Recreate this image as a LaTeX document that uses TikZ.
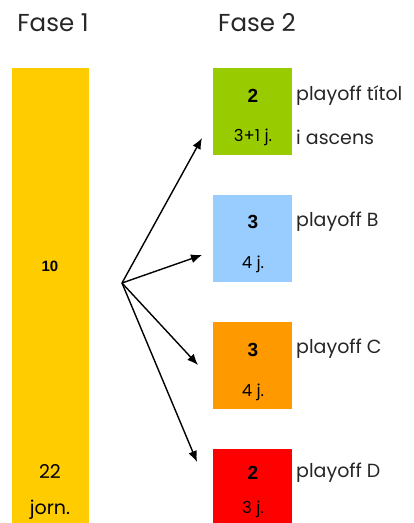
\documentclass[tikz,border=0pt]{standalone}
\usepackage{fontspec}
\setmainfont{Poppins}
\newfontfamily\numfont{Liberation Sans}
\usetikzlibrary{arrows.meta}
\definecolor{grocFase}{HTML}{FFCC00}
\definecolor{verdTitol}{HTML}{99CC00}
\definecolor{blauB}{HTML}{99CCFF}
\definecolor{taronjaC}{HTML}{FF9900}
\definecolor{vermellD}{HTML}{FF0000}
\definecolor{textGris}{HTML}{262626}
\tikzset{
  caixa/.style={shape=rectangle,inner sep=0pt,minimum width=79pt,minimum height=87pt},
  titol/.style={font=\fontsize{24.5}{24.5}\selectfont,text=textGris},
  xifra/.style={font=\numfont\bfseries\fontsize{19}{19}\selectfont},
  jorn/.style={font=\fontsize{16.5}{16.5}\selectfont,text=black},
  etiqueta/.style={anchor=west,inner sep=0pt,font=\fontsize{19}{19}\selectfont,text=textGris}
}
\begin{document}
\begin{tikzpicture}[x=1pt,y=-1pt]
  \useasboundingbox (0,0) rectangle (414,523);
  \node[titol] (fase1) at (53,23) {Fase 1};
  \node[titol] (fase2) at (257,23) {Fase 2};

  \node[caixa,fill=grocFase,minimum width=77pt,minimum height=455pt] (lliga) at (50.5,295.5) {};
  \node[xifra,font=\numfont\bfseries\fontsize{15}{15}\selectfont] (equipsLliga) at (50,266) {10};
  \node[jorn,font=\fontsize{19}{19}\selectfont] (jornLliga) at (50,472) {22};
  \node[jorn,font=\fontsize{19}{19}\selectfont] (jornText) at (50,510) {jorn.};

  \node[caixa,fill=verdTitol] (playoffTitol) at (252.5,111.5) {};
  \node[caixa,fill=blauB] (playoffB) at (252.5,238.5) {};
  \node[caixa,fill=taronjaC] (playoffC) at (252.5,365.5) {};
  \node[caixa,fill=vermellD,minimum height=74pt] (playoffD) at (252.5,486) {};

  \node[xifra] (equipsTitol) at (253,96) {2};
  \node[jorn,font=\fontsize{16.5}{16.5}\selectfont] (jornTitol) at (253,137) {3+1 j.};
  \node[xifra] (equipsB) at (253,222) {3};
  \node[jorn] (jornB) at (253,264) {4 j.};
  \node[xifra] (equipsC) at (253,350) {3};
  \node[jorn] (jornC) at (253,392) {4 j.};
  \node[xifra] (equipsD) at (253,473) {2};
  \node[jorn] (jornD) at (253,509) {3 j.};

  \node[etiqueta] (nomTitol) at (296,96) {playoff títol};
  \node[etiqueta] (nomAscens) at (296,137) {i ascens};
  \node[etiqueta] (nomB) at (296,222) {playoff B};
  \node[etiqueta] (nomC) at (296,349) {playoff C};
  \node[etiqueta] (nomD) at (296,473) {playoff D};

  \coordinate (origen) at (122,283);
  \coordinate (puntaTitol) at (202,138);
  \coordinate (puntaB) at (202,255);
  \coordinate (puntaC) at (198,365);
  \coordinate (puntaD) at (197,462);

  \path [-{Latex[length=11pt,width=9pt]},line width=1.4pt] (origen) edge (puntaTitol);
  \path [-{Latex[length=11pt,width=9pt]},line width=1.4pt] (origen) edge (puntaB);
  \path [-{Latex[length=11pt,width=9pt]},line width=1.4pt] (origen) edge (puntaC);
  \path [-{Latex[length=11pt,width=9pt]},line width=1.4pt] (origen) edge (puntaD);
\end{tikzpicture}
\end{document}
